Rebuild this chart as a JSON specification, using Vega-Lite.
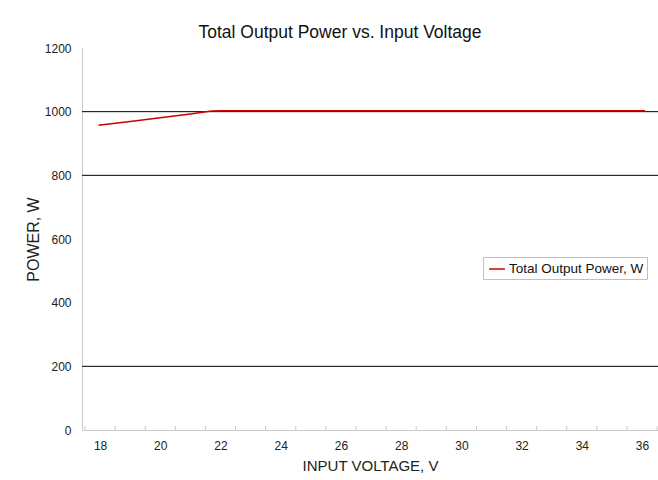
{
  "$schema": "https://vega.github.io/schema/vega-lite/v6.json",
  "autosize": {"type": "none"},
  "width": 576,
  "height": 382,
  "padding": {"left": 82, "top": 48, "right": 0, "bottom": 50},
  "background": "white",
  "config": {
    "font": "Liberation Sans",
    "view": {"stroke": null},
    "axis": {"labelFont": "Liberation Sans", "titleFont": "Liberation Sans", "labelColor": "#222", "titleColor": "#222", "titleFontWeight": "normal", "labelFontSize": 12, "titleFontSize": 15}
  },
  "title": {"text": "Total Output Power vs. Input Voltage", "anchor": "middle", "frame": "group", "dx": -30, "offset": 1, "fontSize": 17.5, "fontWeight": "normal", "font": "Liberation Sans", "color": "#111"},
  "datasets": {
    "power": [
      {"voltage": 17.95, "power": 957, "series": "Total Output Power, W"},
      {"voltage": 19, "power": 969, "series": "Total Output Power, W"},
      {"voltage": 20, "power": 981, "series": "Total Output Power, W"},
      {"voltage": 21, "power": 993, "series": "Total Output Power, W"},
      {"voltage": 21.7, "power": 1002, "series": "Total Output Power, W"},
      {"voltage": 22, "power": 1003, "series": "Total Output Power, W"},
      {"voltage": 24, "power": 1003, "series": "Total Output Power, W"},
      {"voltage": 26, "power": 1003, "series": "Total Output Power, W"},
      {"voltage": 28, "power": 1003, "series": "Total Output Power, W"},
      {"voltage": 30, "power": 1003, "series": "Total Output Power, W"},
      {"voltage": 32, "power": 1003, "series": "Total Output Power, W"},
      {"voltage": 34, "power": 1003, "series": "Total Output Power, W"},
      {"voltage": 36.1, "power": 1003, "series": "Total Output Power, W"}
    ],
    "grid": [{"g": 200}, {"g": 800}, {"g": 1000}],
    "ticks": [
      {"t": 17.5}, {"t": 18.5}, {"t": 19.5}, {"t": 20.5}, {"t": 21.5}, {"t": 22.5}, {"t": 23.5}, {"t": 24.5}, {"t": 25.5}, {"t": 26.5},
      {"t": 27.5}, {"t": 28.5}, {"t": 29.5}, {"t": 30.5}, {"t": 31.5}, {"t": 32.5}, {"t": 33.5}, {"t": 34.5}, {"t": 35.5}, {"t": 36.5}
    ]
  },
  "layer": [
    {
      "data": {"name": "grid"},
      "mark": {"type": "rule", "color": "#000", "strokeWidth": 1},
      "encoding": {
        "y": {"field": "g", "type": "quantitative", "scale": {"domain": [0, 1200], "nice": false},
          "axis": {"title": "POWER, W", "titleFontSize": 16, "format": "d", "values": [0, 200, 400, 600, 800, 1000, 1200], "grid": false, "ticks": false, "labelPadding": 11, "titlePadding": 3, "domainColor": "#c8c8c8", "domainWidth": 1}}
      }
    },
    {
      "data": {"name": "ticks"},
      "mark": {"type": "rule", "color": "#c8c8c8", "strokeWidth": 1},
      "encoding": {
        "x": {"field": "t", "type": "quantitative"},
        "y": {"datum": 0, "type": "quantitative"},
        "y2": {"datum": 12}
      }
    },
    {
      "data": {"name": "power"},
      "mark": {"type": "line", "strokeWidth": 1.5, "interpolate": "linear"},
      "encoding": {
        "x": {"field": "voltage", "type": "quantitative", "scale": {"domain": [17.4, 36.53], "nice": false, "zero": false},
          "axis": {"title": "INPUT VOLTAGE, V", "values": [18, 20, 22, 24, 26, 28, 30, 32, 34, 36], "grid": false, "ticks": false, "labelPadding": 10, "titlePadding": 7, "domainColor": "#c8c8c8", "domainWidth": 1}},
        "y": {"field": "power", "type": "quantitative"},
        "color": {"field": "series", "type": "nominal", "scale": {"range": ["#cc0000"]},
          "legend": {"title": null, "orient": "none", "legendX": 401, "legendY": 209, "strokeColor": "#c0c0c0", "padding": 3, "fillColor": "white", "symbolType": "stroke", "symbolSize": 250, "symbolStrokeWidth": 1.5, "labelFontSize": 13.5, "labelFont": "Liberation Sans", "labelColor": "#111", "symbolOffset": 2, "labelOffset": 3}}
      }
    }
  ]
}
